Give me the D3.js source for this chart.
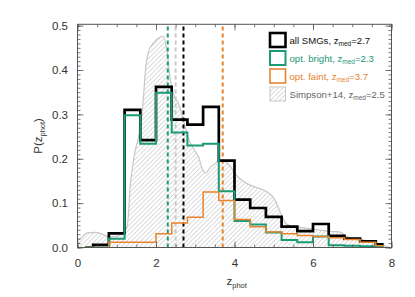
<!DOCTYPE html>
<html>
<head>
<meta charset="utf-8">
<script src="https://cdn.jsdelivr.net/npm/d3@7"></script>
<style>
  html, body { margin: 0; padding: 0; background: #fff; }
  svg { display: block; font-family: "Liberation Sans", Arial, sans-serif; }
</style>
</head>
<body>
<div id="chart"></div>
<script>
// bin centres of the histograms (width 0.4)
const binCenters = [0.2, 0.6, 1.0, 1.4, 1.8, 2.2, 2.6, 3.0, 3.4, 3.8,
                    4.2, 4.6, 5.0, 5.4, 5.8, 6.2, 6.6, 7.0, 7.4, 7.8]
const allSMGs    = [0, 0.006, 0.032, 0.310, 0.242, 0.362, 0.288, 0.277, 0.317, 0.196,
                    0.108, 0.089, 0.069, 0.047, 0.037, 0.053, 0.026, 0.020, 0.014, 0.007]
const optBright  = [0, 0, 0.020, 0.298, 0.234, 0.349, 0.259, 0.230, 0.234, 0.127,
                    0.060, 0.052, 0.034, 0.017, 0.012, 0.025, 0.005, 0.004, 0.003, 0.002]
const optFaint   = [0, 0, 0.012, 0.012, 0.012, 0.031, 0.055, 0.068, 0.125, 0.106,
                    0.063, 0.047, 0.035, 0.031, 0.027, 0.025, 0.022, 0.018, 0.012, 0.004]

// Simpson+14 distribution
const simpsonZ = [0, 0.12, 0.24, 0.46, 0.63, 0.8, 1.05, 1.18, 1.26, 1.3, 1.34, 1.39, 1.47, 1.56,
                  1.63, 1.68, 1.73, 1.81, 1.94, 2.11, 2.19, 2.28, 2.37, 2.45, 2.58, 2.66, 2.75,
                  2.83, 2.96, 3.09, 3.18, 3.26, 3.39, 3.52, 3.64, 3.77, 3.9, 4.03, 4.2, 4.41,
                  4.6, 4.8, 5.01, 5.18, 5.31, 5.45, 5.69, 6.12, 6.46, 6.67, 6.88, 7.22, 7.6, 7.82, 7.95]
const simpsonP = [0.015, 0.024, 0.033, 0.034, 0.030, 0.024, 0.026, 0.035, 0.045, 0.077, 0.136, 0.174, 0.218, 0.250,
                  0.290, 0.338, 0.398, 0.442, 0.461, 0.474, 0.476, 0.442, 0.375, 0.345, 0.323, 0.300, 0.270,
                  0.245, 0.222, 0.203, 0.177, 0.168, 0.181, 0.190, 0.196, 0.193, 0.182, 0.165, 0.151, 0.140,
                  0.134, 0.127, 0.110, 0.077, 0.054, 0.048, 0.045, 0.040, 0.036, 0.035, 0.024, 0.018, 0.010, 0.004, 0]

// medians
const medians = [
  {name: "simpson", z: 2.5, color: "#c8c8c8"},
  {name: "bright", z: 2.3, color: "#1b9a76"},
  {name: "all", z: 2.7, color: "#000"},
  {name: "faint", z: 3.7, color: "#e8842c"}
]

const legendItems = [
  {label: "all SMGs, z", sub: "med", value: "=2.7", color: "#000", text: "#111", width: 2.6, hatch: false},
  {label: "opt. bright, z", sub: "med", value: "=2.3", color: "#1b9a76", text: "#1b9a76", width: 2, hatch: false},
  {label: "opt. faint, z", sub: "med", value: "=3.7", color: "#e8842c", text: "#e8842c", width: 1.6, hatch: false},
  {label: "Simpson+14, z", sub: "med", value: "=2.5", color: "#c8c8c8", text: "#666", width: 1, hatch: true}
]

const xMajor = [0, 2, 4, 6, 8]
const yMajor = [0, 0.1, 0.2, 0.3, 0.4, 0.5]

const width = 415, height = 297
const margin = {top: 24.3, right: 23.5, bottom: 49.5, left: 77.5}

const x = d3.scaleLinear().domain([0, 8]).range([margin.left, width - margin.right])
const y = d3.scaleLinear().domain([0, 0.503]).range([height - margin.bottom, margin.top])

const svg = d3.select("#chart").append("svg")
  .attr("width", width)
  .attr("height", height)

const defs = svg.append("defs")
defs.append("pattern")
  .attr("id", "hatch")
  .attr("patternUnits", "userSpaceOnUse")
  .attr("width", 4.6).attr("height", 4.6)
  .append("path")
  .attr("d", "M-1,1 l2,-2 M0,4.6 l4.6,-4.6 M3.6,5.6 l2,-2")
  .attr("stroke", "#bcbcbc")
  .attr("stroke-width", 0.75)

defs.append("clipPath").attr("id", "plotclip")
  .append("rect")
  .attr("x", margin.left).attr("y", margin.top)
  .attr("width", width - margin.left - margin.right)
  .attr("height", height - margin.top - margin.bottom)

const plot = svg.append("g").attr("clip-path", "url(#plotclip)")

// Simpson+14 hatched area
const simpson = simpsonZ.map((z, i) => ({z, p: simpsonP[i]}))
plot.append("path")
  .datum(simpson)
  .attr("fill", "url(#hatch)")
  .attr("d", d3.area().x(d => x(d.z)).y0(y(0)).y1(d => y(d.p)).curve(d3.curveMonotoneX))
plot.append("path")
  .datum(simpson)
  .attr("fill", "none")
  .attr("stroke", "#c8c8c8")
  .attr("stroke-width", 1.2)
  .attr("d", d3.line().x(d => x(d.z)).y(d => y(d.p)).curve(d3.curveMonotoneX))

// median lines
plot.selectAll("line.median")
  .data(medians)
  .join("line")
  .attr("class", "median")
  .attr("x1", d => x(d.z)).attr("x2", d => x(d.z))
  .attr("y1", y.range()[0]).attr("y2", y.range()[1])
  .attr("stroke", d => d.color)
  .attr("stroke-width", 2)
  .attr("stroke-dasharray", "4,3")

// histograms (steps centred on the bins, like psym=10)
const step = d3.line().x(d => x(d[0])).y(d => y(d[1])).curve(d3.curveStep)
const hists = [
  {values: allSMGs, color: "#000", w: 2.7},
  {values: optBright, color: "#1b9a76", w: 2},
  {values: optFaint, color: "#e8842c", w: 1.5}
]
plot.selectAll("path.hist")
  .data(hists)
  .join("path")
  .attr("class", "hist")
  .attr("fill", "none")
  .attr("stroke", d => d.color)
  .attr("stroke-width", d => d.w)
  .attr("d", d => step(binCenters.map((c, i) => [c, d.values[i]])))

// axes
const axisColor = "#555"
const y0 = y.range()[0], y1 = y.range()[1]
const x0 = x.range()[0], x1 = x.range()[1]

function clean(g) {
  g.select(".domain").remove()
  g.selectAll(".tick line").attr("stroke", axisColor).attr("stroke-width", 0.8)
  g.selectAll(".tick text").attr("fill", "#333").attr("font-size", 11.5)
}

const xMinor = d3.range(0, 8.01, 0.5)
const yMinor = d3.range(0, 0.5001, 0.01)

svg.append("g").attr("transform", `translate(0,${y0})`)
  .call(d3.axisBottom(x).tickValues(xMinor).tickSize(-3).tickFormat("")).call(clean)
svg.append("g").attr("transform", `translate(0,${y0})`)
  .call(d3.axisBottom(x).tickValues(xMajor).tickSize(-6).tickPadding(11).tickFormat(d3.format("d"))).call(clean)
svg.append("g").attr("transform", `translate(0,${y1})`)
  .call(d3.axisTop(x).tickValues(xMinor).tickSize(-3).tickFormat("")).call(clean)
svg.append("g").attr("transform", `translate(0,${y1})`)
  .call(d3.axisTop(x).tickValues(xMajor).tickSize(-6).tickFormat("")).call(clean)

svg.append("g").attr("transform", `translate(${x0},0)`)
  .call(d3.axisLeft(y).tickValues(yMinor).tickSize(-3).tickFormat("")).call(clean)
svg.append("g").attr("transform", `translate(${x0},0)`)
  .call(d3.axisLeft(y).tickValues(yMajor).tickSize(-6).tickPadding(9.5).tickFormat(d3.format(".1f"))).call(clean)
svg.append("g").attr("transform", `translate(${x1},0)`)
  .call(d3.axisRight(y).tickValues(yMinor).tickSize(-3).tickFormat("")).call(clean)
svg.append("g").attr("transform", `translate(${x1},0)`)
  .call(d3.axisRight(y).tickValues(yMajor).tickSize(-6).tickFormat("")).call(clean)

svg.append("rect")
  .attr("x", x0).attr("y", y1)
  .attr("width", x1 - x0).attr("height", y0 - y1)
  .attr("fill", "none")
  .attr("stroke", axisColor)
  .attr("stroke-width", 1)

// axis titles
const xt = svg.append("text")
  .attr("x", (x0 + x1) / 2 - 8).attr("y", 285)
  .attr("font-size", 11.5).attr("fill", "#333")
xt.append("tspan").text("z")
xt.append("tspan").attr("dy", 3).attr("font-size", 7.5).text("phot")

const yt = svg.append("text")
  .attr("transform", `translate(42,${(y0 + y1) / 2}) rotate(-90)`)
  .attr("text-anchor", "middle")
  .attr("font-size", 11.5).attr("fill", "#333")
yt.append("tspan").text("P(")
yt.append("tspan").text("z")
yt.append("tspan").attr("dy", 3).attr("font-size", 7.5).text("phot")
yt.append("tspan").attr("dy", -3).text(")")

// legend
const legend = svg.append("g").attr("transform", "translate(270,33)")
const rows = legend.selectAll("g")
  .data(legendItems)
  .join("g")
  .attr("transform", (d, i) => `translate(0,${i * 18})`)

rows.append("rect")
  .attr("width", 15.5).attr("height", 14)
  .attr("fill", d => d.hatch ? "url(#hatch)" : "#fff")
  .attr("stroke", d => d.color)
  .attr("stroke-width", d => d.width)

const lt = rows.append("text")
  .attr("x", 19.5).attr("y", 10.5)
  .attr("font-size", 9.6)
  .attr("fill", d => d.text)
lt.append("tspan").text(d => d.label)
lt.append("tspan").attr("dy", 2.5).attr("font-size", 6.5).text(d => d.sub)
lt.append("tspan").attr("dy", -2.5).text(d => d.value)
</script>
</body>
</html>
